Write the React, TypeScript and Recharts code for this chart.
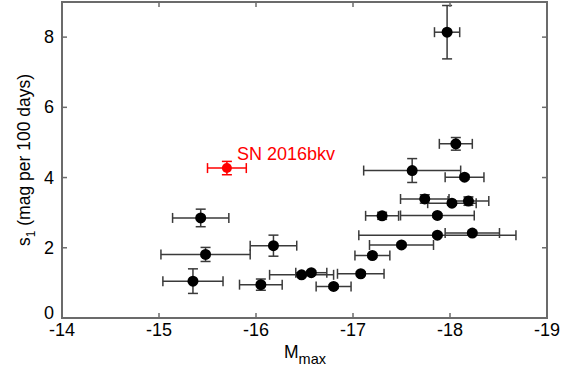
import React from 'react';
import { ScatterChart, Scatter, XAxis, YAxis, ErrorBar, ReferenceArea } from 'recharts';

const mmax = [-17.97, -18.06, -17.61, -18.15, -15.43, -15.48, -16.18, -15.35, -16.05, -17.50, -17.20, -17.08, -16.80, -16.57, -16.47, -17.74, -18.02, -18.19, -17.87, -17.30, -17.87, -18.23];
const s1 = [8.14, 4.96, 4.20, 4.01, 2.85, 1.81, 2.06, 1.05, 0.95, 2.08, 1.78, 1.26, 0.90, 1.29, 1.23, 3.39, 3.27, 3.33, 2.92, 2.91, 2.36, 2.42];
const mmaxErr = [0.13, 0.17, 0.50, 0.20, 0.29, 0.46, 0.24, 0.31, 0.22, 0.33, 0.18, 0.24, 0.18, 0.16, 0.33, 0.25, 0.25, 0.21, 0.38, 0.17, 0.81, 0.28];
const s1Err = [0.76, 0.18, 0.34, 0.06, 0.25, 0.20, 0.30, 0.35, 0.16, 0.05, 0.05, 0.05, 0.05, 0.05, 0.05, 0.12, 0.05, 0.12, 0.05, 0.10, 0.05, 0.05];

const snName = ['SN 2016bkv'];
const snMmax = [-15.70];
const snS1 = [4.27];
const snMmaxErr = [0.20];
const snS1Err = [0.19];

const xTicks = [-14, -15, -16, -17, -18, -19];
const yTicks = [0, 2, 4, 6, 8];

const sample = mmax.map((x, i) => ({ x, y: s1[i], ex: mmaxErr[i], ey: s1Err[i] }));
const sn = snMmax.map((x, i) => ({ x, y: snS1[i], ex: snMmaxErr[i], ey: snS1Err[i], name: snName[i] }));

const FONT = '"Liberation Sans", Arial, Helvetica, sans-serif';
const AXIS = '#6b6b6b';
const TICK_LEN = 5;

const BottomTick = (p: any) => (
  <g>
    <line x1={p.x} x2={p.x} y1={p.y} y2={p.y - TICK_LEN} stroke={AXIS} strokeWidth={1.5} />
    <line x1={p.x} x2={p.x} y1={p.y - 316} y2={p.y - 316 + TICK_LEN} stroke={AXIS} strokeWidth={1.5} />
    <text x={p.x} y={p.y + 18} textAnchor="middle" fontSize={18} fontFamily={FONT} fill="#000">{p.payload.value}</text>
  </g>
);
const LeftTick = (p: any) => (
  <g>
    <line x1={p.x} x2={p.x + TICK_LEN} y1={p.y} y2={p.y} stroke={AXIS} strokeWidth={1.5} />
    <line x1={p.x + 485} x2={p.x + 485 - TICK_LEN} y1={p.y} y2={p.y} stroke={AXIS} strokeWidth={1.5} />
    <text x={p.x - 8} y={p.payload.value === 0 ? p.y + 1 : p.y + 6} textAnchor="end" fontSize={18} fontFamily={FONT} fill="#000">{p.payload.value}</text>
  </g>
);

const Dot = (p: any) => <circle cx={p.cx} cy={p.cy} r={5.5} fill="#000" />;
const RedDot = (p: any) => (
  <g>
    <circle cx={p.cx} cy={p.cy} r={5} fill="#ff0000" />
    <text x={p.cx + 10} y={p.cy - 8} fontSize={18} fontFamily={FONT} fill="#ff0000">{p.payload.name}</text>
  </g>
);

const XLabel = () => (
  <text x={305} y={358} textAnchor="middle" fontSize={17.5} fontFamily={FONT} fill="#000">
    M<tspan fontSize={14.5} dy={6}>max</tspan>
  </text>
);
const YLabel = () => (
  <text x={30} y={160} transform="rotate(-90 30 160)" textAnchor="middle" fontSize={17.5} fontFamily={FONT} fill="#000">
    s<tspan fontSize={12} dy={5}>1</tspan><tspan dy={-5}> (mag per 100 days)</tspan>
  </text>
);

export default function App() {
  return (
    <div style={{ position: 'absolute', left: 0, top: 0, width: 580, height: 371, background: '#fff' }}>
      <ScatterChart width={580} height={371} margin={{ top: 2, right: 33, left: 0, bottom: 0 }}>
        <XAxis type="number" dataKey="x" xAxisId="b" domain={[-19, -14]} reversed ticks={xTicks} allowDataOverflow
          height={53} tickSize={0} tickMargin={0} tick={<BottomTick />} axisLine={{ stroke: AXIS, strokeWidth: 2 }} tickLine={false}
          label={<XLabel />} />
        <YAxis type="number" dataKey="y" yAxisId="l" domain={[0, 9]} ticks={yTicks} allowDataOverflow
          width={62} tickSize={0} tickMargin={0} tick={<LeftTick />} axisLine={{ stroke: AXIS, strokeWidth: 2 }} tickLine={false}
          label={<YLabel />} />
        <ReferenceArea xAxisId="b" yAxisId="l" x1={-19} x2={-14} y1={0} y2={9} fill="none" fillOpacity={0}
          stroke={AXIS} strokeWidth={2} ifOverflow="visible" />
        <Scatter data={sample} xAxisId="b" yAxisId="l" shape={<Dot />} isAnimationActive={false}>
          <ErrorBar dataKey="ex" direction="x" width={5} stroke="#3a3a3a" strokeWidth={1.5} />
          <ErrorBar dataKey="ey" direction="y" width={5} stroke="#3a3a3a" strokeWidth={1.5} />
        </Scatter>
        <Scatter data={sn} xAxisId="b" yAxisId="l" shape={<RedDot />} isAnimationActive={false}>
          <ErrorBar dataKey="ex" direction="x" width={5} stroke="#ff0000" strokeWidth={1.5} />
          <ErrorBar dataKey="ey" direction="y" width={5} stroke="#ff0000" strokeWidth={1.5} />
        </Scatter>
      </ScatterChart>
    </div>
  );
}
